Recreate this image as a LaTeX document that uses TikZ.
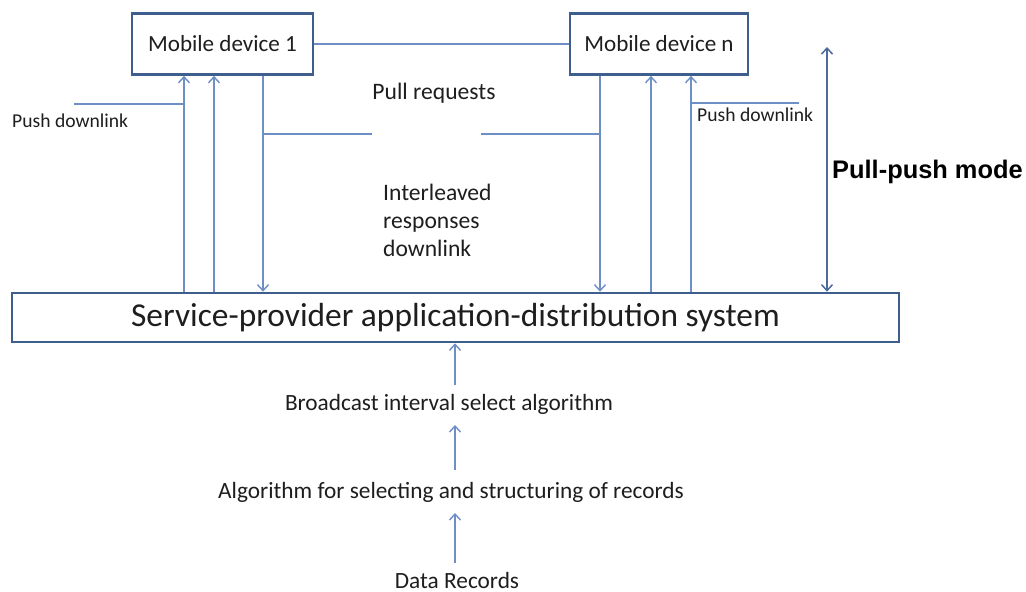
\documentclass[tikz,border=0pt]{standalone}
\usepackage{fontspec}
\setmainfont{Carlito}
\newfontfamily\boldsans{Liberation Sans}
\usetikzlibrary{arrows.meta}
\definecolor{lineblue}{HTML}{6E8FC6}
\definecolor{boxblue}{HTML}{3E5F8E}
\definecolor{darkarrow}{HTML}{4B6B9B}
\definecolor{txt}{HTML}{1E1E1E}
\begin{document}
\begin{tikzpicture}[x=1pt,y=-1pt,
  devbox/.style={draw=boxblue, line width=2.6pt, fill=white, inner sep=0pt,
    minimum height=61pt, text=txt, font=\fontsize{23.1}{27}\selectfont},
  sysbox/.style={draw=boxblue, line width=2.6pt, fill=white, inner sep=0pt,
    minimum width=887pt, minimum height=49pt, text=txt, font=\fontsize{33.4}{38}\selectfont},
  lbl/.style={text=txt, inner sep=0pt, font=\fontsize{23.6}{28}\selectfont},
  small/.style={text=txt, inner sep=0pt, font=\fontsize{19.6}{22}\selectfont},
  chain/.style={text=txt, inner sep=0pt, font=\fontsize{23.3}{27}\selectfont},
  ln/.style={draw=lineblue, line width=1.4pt},
  arr/.style={ln, -{Straight Barb[length=6pt,width=11pt]}},
  darr/.style={draw=darkarrow, line width=1.5pt, {Straight Barb[length=6pt,width=11pt]}-{Straight Barb[length=6pt,width=11pt]}}
]
\useasboundingbox (0,0) rectangle (1026,592);
\fill[white] (0,0) rectangle (1026,592);

% boxes
\node[devbox, minimum width=181pt] (md1) at (222.5,44) {Mobile device 1};
\node[devbox, minimum width=178pt] (mdn) at (659,44) {Mobile device n};
\node[sysbox] (sys) at (455.5,317.5) {Service-provider application-distribution system};

% column coordinates
\coordinate (c1) at (184,0);
\coordinate (c2) at (214,0);
\coordinate (c3) at (263,0);
\coordinate (c4) at (600,0);
\coordinate (c5) at (651,0);
\coordinate (c6) at (691,0);
\coordinate (c7) at (827,0);
\coordinate (cb) at (455,0);

% link between devices
\draw[ln] (md1.east) -- (mdn.west);

% device 1 arrows
\draw[arr] (sys.north -| c1) -- (md1.south -| c1);
\draw[arr] (sys.north -| c2) -- (md1.south -| c2);
\draw[arr] (md1.south -| c3) -- (sys.north -| c3);
% device n arrows
\draw[arr] (mdn.south -| c4) -- (sys.north -| c4);
\draw[arr] (sys.north -| c5) -- (mdn.south -| c5);
\draw[arr] (sys.north -| c6) -- (mdn.south -| c6);

% push downlink lines
\coordinate (pd1s) at (74,104);
\draw[ln] (pd1s) -- (pd1s -| c1);
\coordinate (pdne) at (799,103);
\draw[ln] (pdne -| c6) -- (pdne);

% pull request lines
\coordinate (pr1) at (372,134);
\coordinate (pr2) at (481,134);
\draw[ln] (pr1 -| c3) -- (pr1);
\draw[ln] (pr2) -- (pr2 -| c4);

% pull-push arrow
\coordinate (ppt) at (827,47);
\draw[darr] (ppt) -- (sys.north -| c7);

% labels
\node[small, anchor=west] (pdl1) at (12,121) {Push downlink};
\node[small, anchor=west] (pdln) at (697,115) {Push downlink};
\node[lbl] (pull) at (434,93) {Pull requests};
\node[lbl, align=left, anchor=west] (inter) at (383,220) {Interleaved\\responses\\downlink};
\node[inner sep=0pt, anchor=west, font=\boldsans\bfseries\fontsize{25.4}{29}\selectfont] (ppm) at (832,172) {Pull-push mode};

% bottom chain
\node[chain] (bca) at (449,404) {Broadcast interval select algorithm};
\node[chain] (alg) at (451,492) {Algorithm for selecting and structuring of records};
\node[chain] (data) at (457,580) {Data Records};

\coordinate (b1) at (455,385);
\coordinate (b2) at (455,470);
\coordinate (b2t) at (455,425);
\coordinate (b3) at (455,563);
\coordinate (b3t) at (455,513);
\draw[arr] (b1) -- (sys.south -| cb);
\draw[arr] (b2) -- (b2t);
\draw[arr] (b3) -- (b3t);
\end{tikzpicture}
\end{document}
